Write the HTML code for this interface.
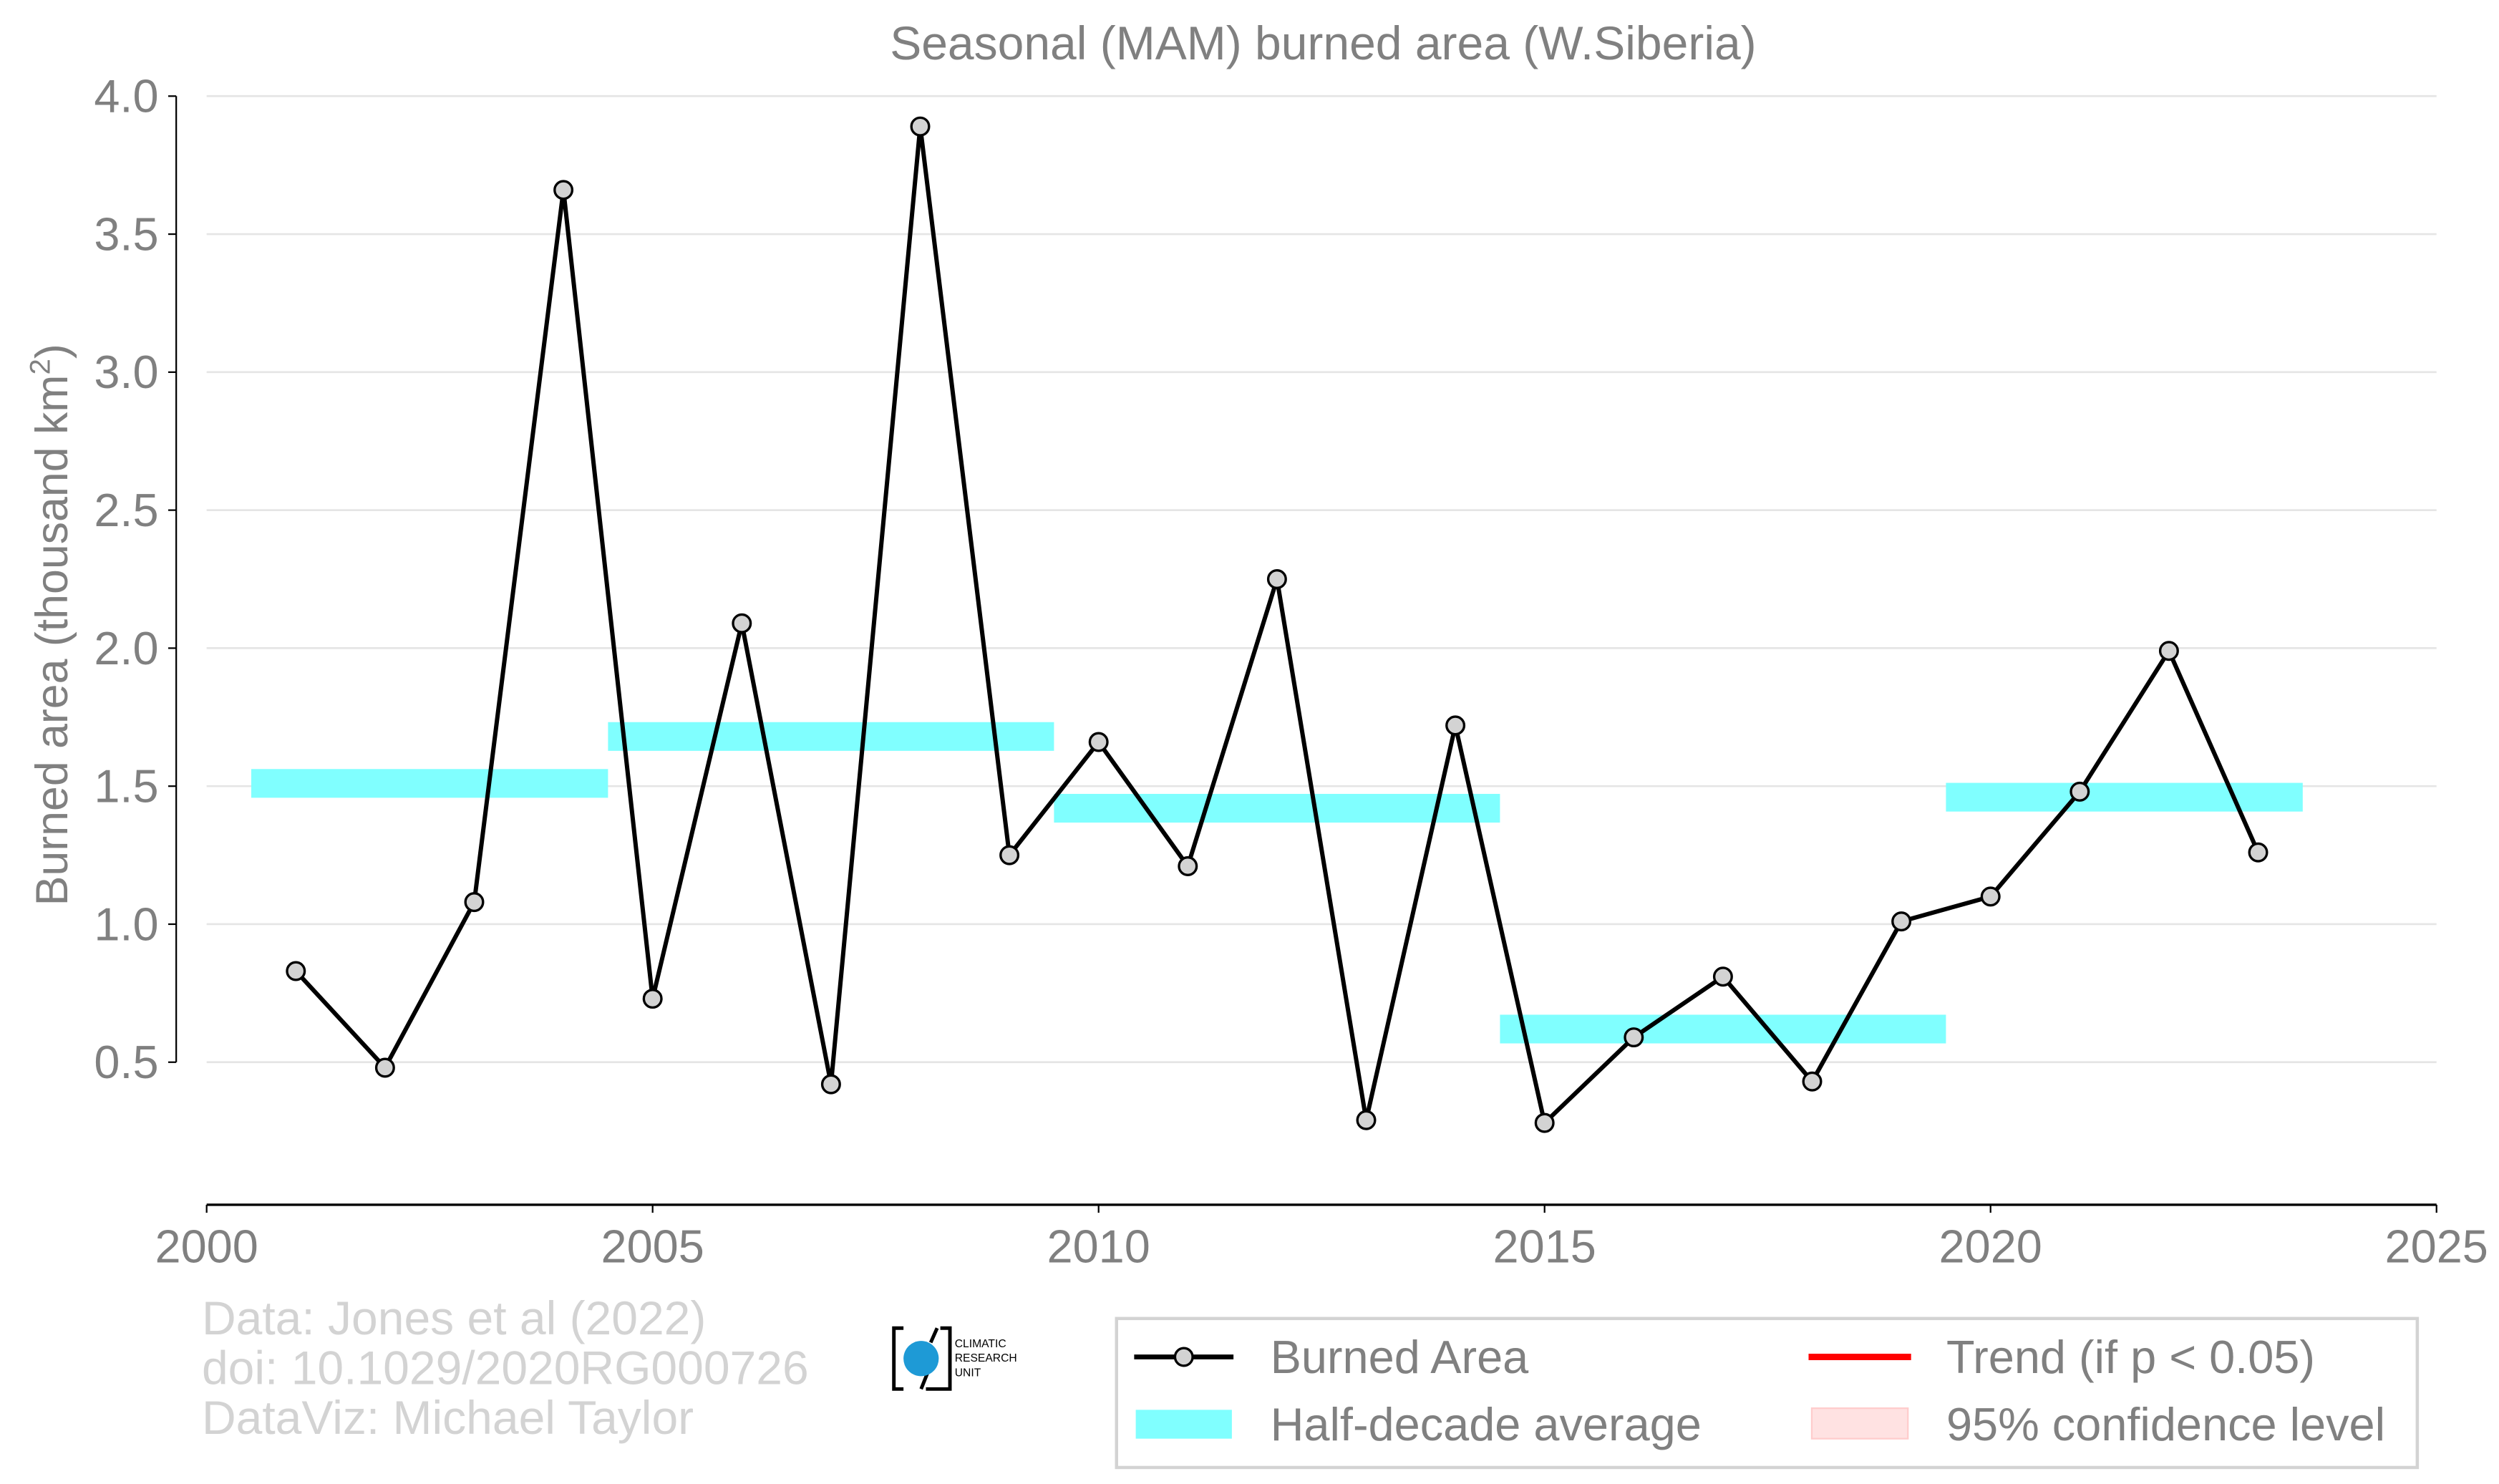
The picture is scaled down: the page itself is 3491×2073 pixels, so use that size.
<!DOCTYPE html>
<html><head><meta charset="utf-8"><style>
html,body{margin:0;padding:0;background:#fff;}
svg{display:block;font-family:"Liberation Sans",sans-serif;}
</style></head><body>
<svg id="chart" width="3491" height="2073" viewBox="0 0 1560 926.3" preserveAspectRatio="none" xmlns="http://www.w3.org/2000/svg">
<text x="826" y="37" font-size="29.5" fill="#808080" text-anchor="middle">Seasonal (MAM) burned area (W.Siberia)</text>
<g id="grid"></g>
<g id="bars"></g>
<g id="yaxis"></g>
<g id="xaxis"></g>
<path id="series-line" fill="none" stroke="#000" stroke-width="2.7" stroke-linejoin="round"/>
<g id="points"></g>
<text transform="translate(42,390) rotate(-90)" font-size="28" fill="#808080" text-anchor="middle">Burned area (thousand km<tspan dy="-11" font-size="18">2</tspan><tspan dy="11">)</tspan></text>
<g fill="#d3d3d3" font-size="29.5">
<text x="126" y="833">Data: Jones et al (2022)</text>
<text x="126" y="864">doi: 10.1029/2020RG000726</text>
<text x="126" y="895">DataViz: Michael Taylor</text>
</g>
<g>
<path d="M564,829 H558 V867 H564 M575,867 L579,857 M585,829 L581,838 M587,829 H593 V867 H578" fill="none" stroke="#000" stroke-width="2.2"/>
<circle cx="575" cy="848" r="11" fill="#1e9ad6"/>
<text x="596" y="841" font-size="7" fill="#000">CLIMATIC</text>
<text x="596" y="850" font-size="7" fill="#000">RESEARCH</text>
<text x="596" y="859" font-size="7" fill="#000">UNIT</text>
</g>
<g>
<rect x="697" y="823" width="812" height="93" fill="#fff" stroke="#d3d3d3" stroke-width="2"/>
<line x1="708" y1="847" x2="770" y2="847" stroke="#000" stroke-width="3"/>
<circle cx="739" cy="847" r="5.5" fill="#d3d3d3" stroke="#000" stroke-width="1.5"/>
<text x="793" y="857" font-size="29" fill="#808080">Burned Area</text>
<rect x="709" y="880" width="60" height="18" fill="#80ffff"/>
<text x="793" y="899" font-size="29" fill="#808080">Half-decade average</text>
<line x1="1129" y1="847" x2="1193" y2="847" stroke="#ff0000" stroke-width="4"/>
<text x="1215" y="857" font-size="29" fill="#808080">Trend (if p &lt; 0.05)</text>
<rect x="1131" y="879" width="60" height="19" fill="#ffe2e2" stroke="#ffcccc" stroke-width="1"/>
<text x="1215" y="899" font-size="29" fill="#808080">95% confidence level</text>
</g>
</svg>
<script>
const years = [2001,2002,2003,2004,2005,2006,2007,2008,2009,2010,2011,2012,2013,2014,2015,2016,2017,2018,2019,2020,2021,2022,2023];
const burned = [0.83,0.48,1.08,3.66,0.73,2.09,0.42,3.89,1.25,1.66,1.21,2.25,0.29,1.72,0.28,0.59,0.81,0.43,1.01,1.10,1.48,1.99,1.26];
const halfStart = [2000.5,2004.5,2009.5,2014.5,2019.5];
const halfEnd = [2004.5,2009.5,2014.5,2019.5,2023.5];
const halfMean = [1.51,1.68,1.42,0.62,1.46];
const yTicks = [0.5,1.0,1.5,2.0,2.5,3.0,3.5,4.0];
const xTicks = [2000,2005,2010,2015,2020,2025];

const NS = "http://www.w3.org/2000/svg";
function xs(v){ return 129 + (v-2000)*(1521-129)/25; }
function ys(v){ return 60 + (4-v)*(663-60)/3.5; }
function mk(tag, attrs, parent){
  const e = document.createElementNS(NS, tag);
  for (const k in attrs) e.setAttribute(k, attrs[k]);
  parent.appendChild(e); return e;
}
const grid = document.getElementById('grid');
const yax = document.getElementById('yaxis');
const xax = document.getElementById('xaxis');
yTicks.forEach(t => {
  const g = mk('line',{x1:129,x2:1521,y1:ys(t),y2:ys(t),stroke:'#e5e5e5','stroke-width':1.2},grid);
  
  
  mk('line',{x1:105,x2:110,y1:ys(t),y2:ys(t),stroke:'#000','stroke-width':1},yax);
  const lb = mk('text',{x:99,y:ys(t)+10,'font-size':29,fill:'#808080','text-anchor':'end'},yax);
  lb.textContent = t.toFixed(1);
  
  
});
const ya = mk('line',{x1:110,x2:110,y1:ys(4),y2:ys(0.5),stroke:'#000','stroke-width':1},yax);


const xa = mk('line',{x1:129,x2:1521,y1:752,y2:752,stroke:'#000','stroke-width':1.5},xax);


xTicks.forEach(t => {
  mk('line',{x1:xs(t),x2:xs(t),y1:752,y2:757,stroke:'#000','stroke-width':1},xax);
  const lb = mk('text',{x:xs(t),y:788,'font-size':29,fill:'#808080','text-anchor':'middle'},xax);
  lb.textContent = t;
  
  
});
const bars = document.getElementById('bars');
halfMean.forEach((m,i) => {
  const b = mk('rect',{x:xs(halfStart[i]),width:xs(halfEnd[i])-xs(halfStart[i]),y:ys(m+0.052),height:ys(m-0.052)-ys(m+0.052),fill:'#80ffff'},bars);
  
  
});
document.getElementById('series-line').setAttribute('d', years.map((y,i)=>(i?'L':'M')+xs(y)+','+ys(burned[i])).join(' '));
const pts = document.getElementById('points');
years.forEach((y,i) => {
  const c = mk('circle',{cx:xs(y),cy:ys(burned[i]),r:5.5,fill:'#d3d3d3',stroke:'#000','stroke-width':1.5},pts);
  
  
});
</script>
</body></html>
